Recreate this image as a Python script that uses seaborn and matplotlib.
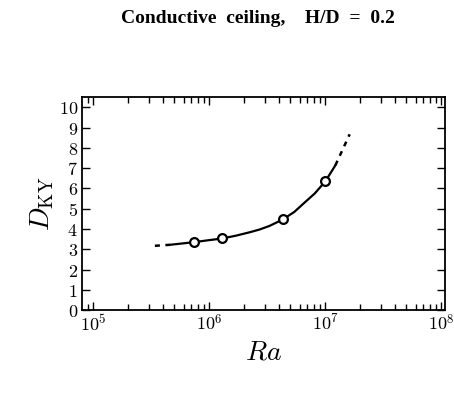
import numpy as np
import pandas as pd
import matplotlib
matplotlib.use("Agg")
import matplotlib.pyplot as plt
import seaborn as sns
from matplotlib.ticker import FixedLocator, FixedFormatter, LogLocator, NullFormatter

# data
ra_points = [7.4e5, 1.29e6, 4.3e6, 1.0e7]
d_points = [3.35, 3.53, 4.47, 6.35]

ra_solid = [4.6e5, 7.4e5, 1.0e6, 1.29e6, 1.7e6, 2.24e6, 2.7e6, 3.3e6, 4.3e6, 5.4e6,
            6.5e6, 8.1e6, 1.0e7, 1.12e7, 1.22e7]
d_solid = [3.22, 3.35, 3.45, 3.53, 3.67, 3.84, 3.97, 4.15, 4.47, 4.84,
           5.26, 5.75, 6.35, 6.8, 7.14]

ra_dash_left = [3.4e5, 4.6e5]
d_dash_left = [3.17, 3.22]
ra_dash_right = [1.22e7, 1.62e7]
d_dash_right = [7.14, 8.67]

y_ticks = list(range(0, 11))
x_ticks = [1e5, 1e6, 1e7, 1e8]
x_labels = ["$10^5$", "$10^6$", "$10^7$", "$10^8$"]

sns.set_style("ticks")
plt.rcParams["mathtext.fontset"] = "cm"
plt.rcParams["font.family"] = ["DejaVu Sans"]
plt.rcParams["text.color"] = "black"
plt.rcParams["axes.labelcolor"] = "black"

fig = plt.figure(figsize=(4.54, 3.95), dpi=100)
ax = fig.add_axes([0.181, 0.215, 0.799, 0.539])

sol = pd.DataFrame({"Ra": ra_solid, "D": d_solid})
sns.lineplot(data=sol, x="Ra", y="D", color="black", lw=1.6, ax=ax, sort=False)
for rx, dy in [(ra_dash_left, d_dash_left), (ra_dash_right, d_dash_right)]:
    sns.lineplot(x=rx, y=dy, color="black", lw=1.8, ax=ax, sort=False,
                 linestyle=(0, (2.0, 2.2)))
sns.scatterplot(x=ra_points, y=d_points, ax=ax, marker="o", s=40,
                facecolor="white", edgecolor="black", linewidth=1.6, zorder=5)

ax.set_xscale("log")
ax.set_xlim(10 ** 4.905, 10 ** 8.03)
ax.set_ylim(0, 10.5)

ax.xaxis.set_major_locator(FixedLocator(x_ticks))
ax.xaxis.set_major_formatter(FixedFormatter(x_labels))
ax.xaxis.set_minor_locator(LogLocator(base=10, subs=np.arange(2, 10), numticks=20))
ax.xaxis.set_minor_formatter(NullFormatter())
ax.yaxis.set_major_locator(FixedLocator(y_ticks))
ax.yaxis.set_major_formatter(FixedFormatter([f"${v}$" for v in y_ticks]))

ax.tick_params(which="both", direction="in", top=True, right=True,
               colors="black", labelsize=13, width=1.0)
ax.tick_params(which="major", length=6, pad=3)
ax.tick_params(which="minor", length=4)
for s in ax.spines.values():
    s.set_linewidth(1.3)
    s.set_color("black")

ax.set_xlabel("$Ra$", fontsize=20, labelpad=2)
ax.set_ylabel(r"$D_{\rm KY}$", fontsize=20, labelpad=2)

fig.text(0.568, 0.954, "Conductive  ceiling,    H/D  =  0.2", ha="center", va="center",
         fontsize=14, fontweight="bold", family=["Liberation Serif"], color="black")

fig.savefig("out.png", dpi=100)
